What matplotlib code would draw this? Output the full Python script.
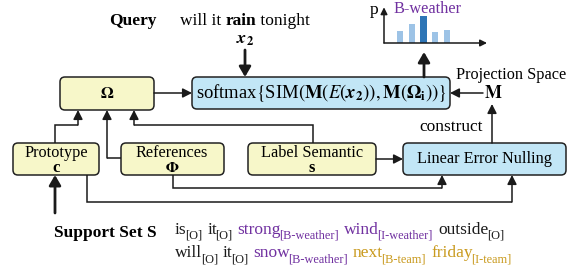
import matplotlib.pyplot as plt
from matplotlib.patches import FancyBboxPatch

plt.rcParams['font.family'] = ['Liberation Serif', 'DejaVu Serif']
plt.rcParams['mathtext.fontset'] = 'stix'

# support set tokens and their tags
line1_words = ["is", "it", "strong", "wind", "outside"]
line1_tags = ["O", "O", "B-weather", "I-weather", "O"]
line2_words = ["will", "it", "snow", "next", "friday"]
line2_tags = ["O", "O", "B-weather", "B-team", "I-team"]

# predicted distribution over labels (mini bar chart)
bar_probs = [0.12, 0.19, 0.27, 0.11, 0.13]
bar_best = 2

BLACK = '#1a1a1a'
PURPLE = '#7030a0'
GOLD = '#c99a1e'
YELLOW = '#f7f7c9'
BLUE = '#c2e6f6'
tag_color = {"O": BLACK, "B-weather": PURPLE, "I-weather": PURPLE,
             "B-team": GOLD, "I-team": GOLD}

fig = plt.figure(figsize=(5.76, 2.73), dpi=100)
ax = fig.add_axes([0, 0, 1, 1])
ax.set_xlim(0, 576)
ax.set_ylim(273, 0)
ax.axis('off')


def box(x0, y0, x1, y1, color):
    p = FancyBboxPatch((x0, y0), x1 - x0, y1 - y0,
                       boxstyle="round,pad=0,rounding_size=5",
                       fc=color, ec='#222222', lw=1.1)
    ax.add_patch(p)


def arrow(pts, lw=1.1, hl=0.55, hw=0.28):
    xs = [p[0] for p in pts[:-1]]
    ys = [p[1] for p in pts[:-1]]
    if len(xs) > 1:
        ax.plot(xs, ys, color=BLACK, lw=lw, solid_joinstyle='miter',
                solid_capstyle='butt')
    ax.annotate('', xy=pts[-1], xytext=pts[-2],
                arrowprops=dict(arrowstyle='-|>,head_length=%g,head_width=%g' % (hl, hw),
                                color=BLACK, lw=lw, shrinkA=0, shrinkB=0))


# boxes
box(60, 77, 154, 110, YELLOW)
box(192, 77, 450, 109, BLUE)
box(13, 143, 99, 175, YELLOW)
box(121, 143, 224, 175, YELLOW)
box(248, 143, 376, 175, YELLOW)
box(403, 143, 566, 175, BLUE)

# box texts
ax.text(107, 94, r'$\mathbf{\Omega}$', ha='center', va='center', fontsize=12)
ax.text(321, 93,
        r'softmax$\{$SIM$(\mathbf{M}\left(E(\mathbfit{x}_\mathbf{2})\right),\mathbf{M}(\mathbf{\Omega}_\mathbf{i}))\}$',
        ha='center', va='center', fontsize=13.4)
ax.text(56, 153, 'Prototype', ha='center', va='center', fontsize=11.7)
ax.text(56, 168.5, 'c', ha='center', va='center', fontsize=12, fontweight='bold')
ax.text(172, 153, 'References', ha='center', va='center', fontsize=11.7)
ax.text(172, 168.5, r'$\mathbf{\Phi}$', ha='center', va='center', fontsize=11)
ax.text(312, 153, 'Label Semantic', ha='center', va='center', fontsize=11.7)
ax.text(312, 168.5, 's', ha='center', va='center', fontsize=12, fontweight='bold')
ax.text(484, 159, 'Linear Error Nulling', ha='center', va='center', fontsize=11.7)

# query
ax.text(133, 21, 'Query', ha='center', va='center', fontsize=12.5, fontweight='bold')
qx = 180
for w, bold in [("will it ", False), ("rain", True), (" tonight", False)]:
    t = ax.text(qx, 21, w, ha='left', va='center', fontsize=12.5,
                fontweight='bold' if bold else 'normal')
    fig.canvas.draw()
    qx += t.get_window_extent().width
ax.text(245, 40, r'$\mathbfit{x}_\mathbf{2}$', ha='center', va='center', fontsize=13)
arrow([(245, 50), (245, 77)], lw=2.0, hl=0.6, hw=0.35)

# projection space
ax.text(511, 75, 'Projection Space', ha='center', va='center', fontsize=11.7)
ax.text(493, 93, r'$\mathbf{M}$', ha='center', va='center', fontsize=13)
arrow([(483, 93), (450, 93)])
ax.text(451, 127, 'construct', ha='center', va='center', fontsize=12.5)
arrow([(492, 143), (492, 104)])

# omega -> softmax
arrow([(154, 93), (192, 93)])

# inputs to omega
arrow([(55, 143), (55, 125), (78, 125), (78, 110)])
arrow([(121, 158), (107, 158), (107, 110)])
arrow([(313, 143), (313, 125), (134, 125), (134, 110)])

# inputs to linear error nulling
arrow([(376, 159), (403, 159)])
arrow([(173, 175), (173, 188), (442, 188), (442, 175)])
arrow([(87, 175), (87, 202), (512, 202), (512, 175)])

# support set
arrow([(55, 213), (55, 175)], lw=2.0, hl=0.6, hw=0.35)
ax.text(105, 233, 'Support Set S', ha='center', va='center', fontsize=12.5,
        fontweight='bold')


def token_line(words, tags, x, base):
    r = fig.canvas.get_renderer()
    for w, tg in zip(words, tags):
        c = tag_color[tg]
        t = ax.text(x, base, w, ha='left', va='baseline', fontsize=12.5, color=c)
        x += t.get_window_extent(r).width - 1.5
        s = ax.text(x, base + 5, '[' + tg + ']', ha='left', va='baseline',
                    fontsize=8.8, color=c)
        x += s.get_window_extent(r).width + 5


token_line(line1_words, line1_tags, 175, 234)
token_line(line2_words, line2_tags, 175, 257)

# softmax -> prediction
arrow([(424, 77), (424, 52)], lw=2.0, hl=0.6, hw=0.35)

# mini bar chart of the label distribution
bx = fig.add_axes([384 / 576, (273 - 43) / 273, 101 / 576, 35 / 273])
bx.set_xlim(-1.37, 7.25)
bx.set_ylim(0, 0.35)
cols = ['#2e75b6' if i == bar_best else '#9dc3e6' for i in range(len(bar_probs))]
bx.bar(range(len(bar_probs)), bar_probs, width=0.52, color=cols)
bx.axis('off')
bx.annotate('', xy=(1.02, 0), xytext=(0, 0), xycoords='axes fraction',
            arrowprops=dict(arrowstyle='-|>,head_length=0.4,head_width=0.2',
                            color=BLACK, lw=1.1, shrinkA=0, shrinkB=0))
bx.annotate('', xy=(0, 1.02), xytext=(0, 0), xycoords='axes fraction',
            arrowprops=dict(arrowstyle='-|>,head_length=0.4,head_width=0.2',
                            color=BLACK, lw=1.1, shrinkA=0, shrinkB=0))
ax.text(374, 10, 'p', ha='center', va='center', fontsize=12.5)
ax.text(427, 9, 'B-weather', ha='center', va='center', fontsize=11.7, color=PURPLE)

fig.savefig('out.png', dpi=100)
